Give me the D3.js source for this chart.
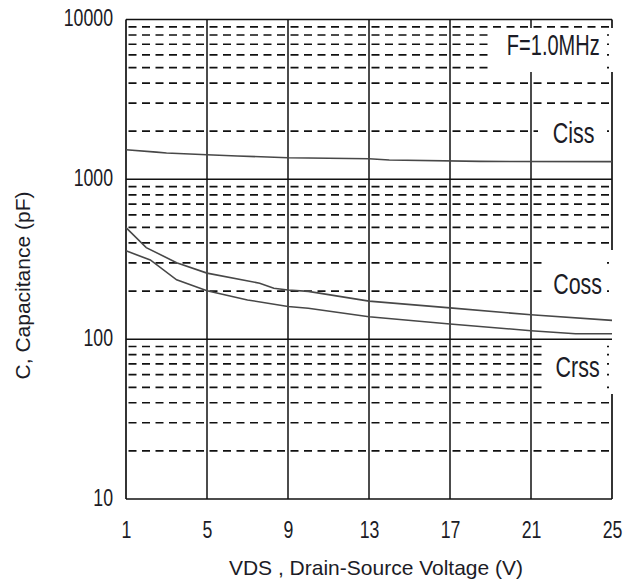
<!DOCTYPE html>
<html>
<head>
<meta charset="utf-8">
<script src="https://cdn.jsdelivr.net/npm/d3@7"></script>
<style>
  body { margin: 0; background: #fff; }
  text { font-family: "Liberation Sans", Arial, sans-serif; fill: #1c1c26; }
</style>
</head>
<body>
<div id="chart"></div>
<script>
// tick values
const vdsTicks = [1, 5, 9, 13, 17, 21, 25];
const capTicks = [10, 100, 1000, 10000];

// curves: [VDS, pF]
const ciss = [[1, 1530], [2.5, 1480], [3, 1460], [5, 1425], [6.5, 1400], [9, 1365], [11, 1355],
              [13, 1345], [14, 1320], [18.5, 1295], [25, 1290]];
const coss = [[1, 499], [2, 374], [3.5, 301], [5, 259], [7.6, 224], [8.3, 208], [9, 203],
              [10, 199], [13, 173], [17, 157], [21, 142], [25, 131]];
const crss = [[1, 357], [2.2, 313], [3.5, 235], [5, 201], [7, 176], [9, 160], [10, 156],
              [13, 138], [17, 124.5], [21, 113], [23.2, 108], [25, 108]];

const W = 633, H = 587;
const margin = {top: 19.5, right: 21, bottom: 88, left: 126};
const width = W - margin.left - margin.right,
      height = H - margin.top - margin.bottom;
const condensed = 0.77;

const svg = d3.select("#chart")
    .append("svg")
    .attr("width", W)
    .attr("height", H);

const x = d3.scaleLinear().domain([1, 25]).range([margin.left, margin.left + width]);
const y = d3.scaleLog().domain([10, 10000]).range([margin.top + height, margin.top]);

// minor (dashed) grid lines: 2..9 in every decade
const minor = [];
[10, 100, 1000].forEach(d => { for (let k = 2; k <= 9; k++) minor.push(d * k); });

const grid = svg.append("g").attr("stroke", "#111").attr("fill", "none");

// dashes restart in every column
const cells = d3.pairs(vdsTicks);
minor.forEach(v => {
  cells.forEach(([a, b]) => {
    grid.append("line")
      .attr("x1", x(a)).attr("x2", x(b))
      .attr("y1", y(v)).attr("y2", y(v))
      .attr("stroke-width", 1.7)
      .attr("stroke-dasharray", "8,5.5")
      .attr("stroke-dashoffset", 11);
  });
});

// solid decade lines
[100, 1000].forEach(v => {
  grid.append("line")
    .attr("x1", x(1)).attr("x2", x(25))
    .attr("y1", y(v)).attr("y2", y(v))
    .attr("stroke-width", 1.5);
});

// solid vertical lines
vdsTicks.slice(1, -1).forEach(v => {
  grid.append("line")
    .attr("x1", x(v)).attr("x2", x(v))
    .attr("y1", y(10000)).attr("y2", y(10))
    .attr("stroke-width", 1.5);
});

// white boxes behind the labels
const boxes = [
  {x0: 490, x1: 607, y0: 28, y1: 72},
  {x0: 538, x1: 607, y0: 117, y1: 147},
  {x0: 542, x1: 607, y0: 250, y1: 298},
  {x0: 542, x1: 607, y0: 341, y1: 394}
];
svg.append("g").selectAll("rect")
  .data(boxes)
  .join("rect")
    .attr("x", d => d.x0).attr("y", d => d.y0)
    .attr("width", d => d.x1 - d.x0).attr("height", d => d.y1 - d.y0)
    .attr("fill", "#fff");

// frame, right side broken where labels sit
const frame = svg.append("g").attr("stroke", "#111").attr("stroke-width", 1.7);
frame.append("line").attr("x1", x(1)).attr("x2", x(25)).attr("y1", y(10000)).attr("y2", y(10000));
frame.append("line").attr("x1", x(1)).attr("x2", x(25)).attr("y1", y(10)).attr("y2", y(10));
frame.append("line").attr("x1", x(1)).attr("x2", x(1)).attr("y1", y(10000)).attr("y2", y(10));
const rightGaps = [[28, 72], [250, 394]];
let ry = y(10000);
rightGaps.forEach(([g0, g1]) => {
  frame.append("line").attr("x1", x(25)).attr("x2", x(25)).attr("y1", ry).attr("y2", g0);
  ry = g1;
});
frame.append("line").attr("x1", x(25)).attr("x2", x(25)).attr("y1", ry).attr("y2", y(10));

// curves
const line = d3.line().x(d => x(d[0])).y(d => y(d[1]));
svg.append("g")
  .selectAll("path")
  .data([ciss, coss, crss])
  .join("path")
    .attr("d", line)
    .attr("fill", "none")
    .attr("stroke", "#484848")
    .attr("stroke-width", 1.6);

// axes (labels only)
const yAxis = svg.append("g")
    .attr("transform", `translate(${margin.left}, 0)`)
    .call(d3.axisLeft(y).tickValues(capTicks).tickFormat(d3.format("d")).tickSize(0));
yAxis.select(".domain").remove();
yAxis.selectAll("text")
    .attr("x", -13 / condensed)
    .attr("dy", 6)
    .attr("transform", `scale(${condensed},1)`)
    .style("font-size", "23px")
    .style("font-family", '"Liberation Sans", Arial, sans-serif')
    .attr("fill", "#1c1c26");

const xAxis = svg.append("g")
    .attr("transform", `translate(0, ${margin.top + height})`)
    .call(d3.axisBottom(x).tickValues(vdsTicks).tickSize(0));
xAxis.select(".domain").remove();
xAxis.selectAll(".tick text")
    .attr("y", 39)
    .attr("dy", 0)
    .attr("x", 0)
    .attr("transform", `scale(${condensed},1)`)
    .style("font-size", "23px")
    .style("font-family", '"Liberation Sans", Arial, sans-serif')
    .attr("fill", "#1c1c26");

// in-plot labels
const labels = [
  {text: "F=1.0MHz", vds: 22.1, pf: 7000, dy: 11, sx: 0.69},
  {text: "Ciss", vds: 23.1, pf: 2000, dy: 12, sx: 0.74},
  {text: "Coss", vds: 23.3, pf: 230, dy: 13, sx: 0.74},
  {text: "Crss", vds: 23.3, pf: 68, dy: 11, sx: 0.74}
];
labels.forEach(l => {
  svg.append("text")
    .attr("transform", `translate(${x(l.vds)}, ${y(l.pf) + l.dy}) scale(${l.sx},1)`)
    .attr("text-anchor", "middle")
    .style("font-size", "29px")
    .text(l.text);
});

// axis titles
svg.append("text")
    .attr("x", 376)
    .attr("y", 575)
    .attr("text-anchor", "middle")
    .style("font-size", "21px")
    .text("VDS , Drain-Source Voltage (V)");

svg.append("text")
    .attr("transform", "translate(30, 285.5) rotate(-90)")
    .attr("text-anchor", "middle")
    .style("font-size", "21px")
    .text("C, Capacitance (pF)");
</script>
</body>
</html>
